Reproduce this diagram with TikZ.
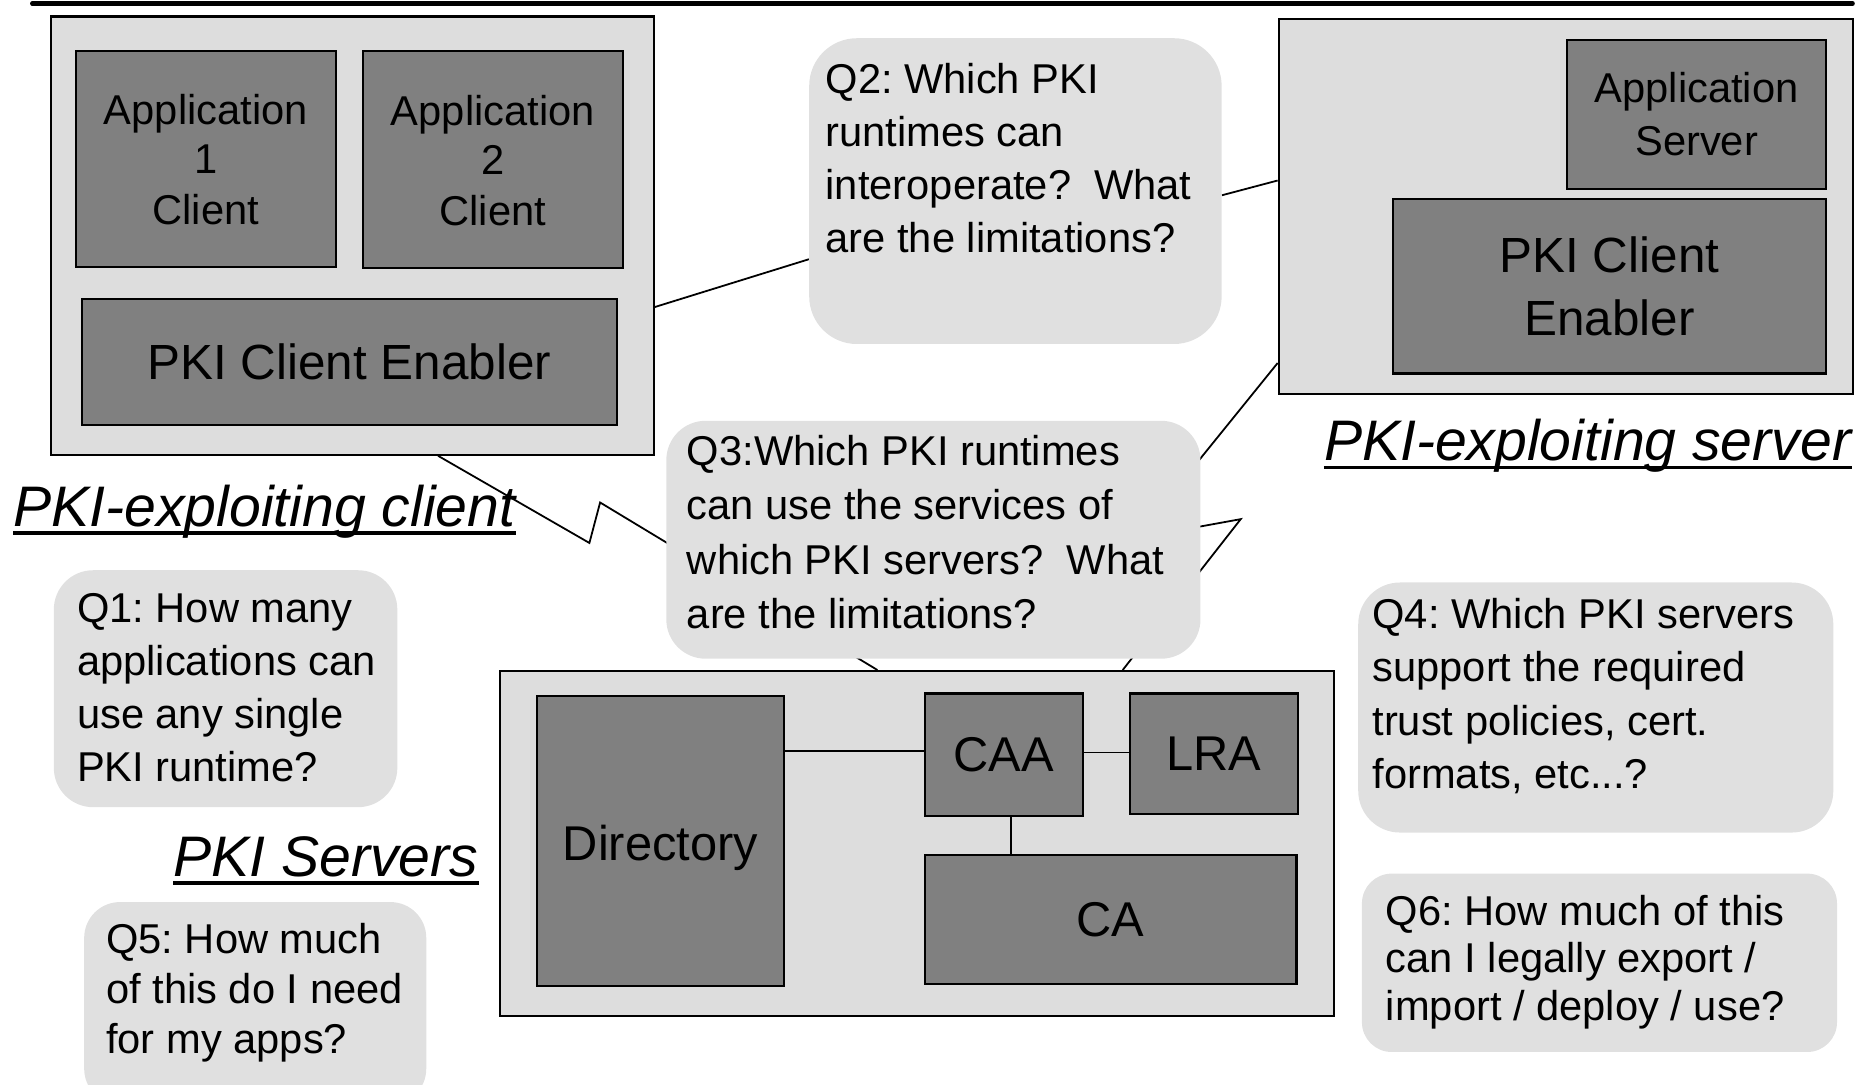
\documentclass[tikz,border=0pt]{standalone}
\usepackage{fontspec}
\setmainfont{Liberation Sans}
\frenchspacing
\pgfdeclarelayer{bg}
\pgfsetlayers{bg,main}
\definecolor{lightbox}{HTML}{DDDDDD}
\definecolor{bubblefill}{HTML}{E0E0E0}
\definecolor{darkbox}{HTML}{808080}
\newcommand{\firstline}{\rule{0pt}{30pt}}
\begin{document}
\begin{tikzpicture}[x=1pt,y=-1pt,
  outerbox/.style={draw=black, line width=1.8pt, fill=lightbox, anchor=north west, inner sep=0pt},
  innerbox/.style={draw=black, line width=1.8pt, fill=darkbox, anchor=north west, inner sep=0pt, align=center},
  bubble/.style={fill=bubblefill, anchor=north west, inner sep=0pt, rounded corners=#1},
  qtext/.style={anchor=north west, inner sep=0pt, align=left, font=\fontsize{35}{#1}\selectfont},
  conn/.style={draw=black, line width=1.5pt},
  boxfont/.style={font=\fontsize{35}{#1}\selectfont},
  bigfont/.style={font=\fontsize{41.5}{#1}\selectfont},
  srvfont/.style={font=\fontsize{41}{50}\selectfont},
  lbl/.style={inner sep=0pt, font=\fontsize{48}{56}\selectfont\itshape},
  uline/.style={draw=black, line width=3pt}
]
\useasboundingbox (0,0) rectangle (1568,911);
\clip (0,0) rectangle (1568,911);

% top rule
\draw[line width=3.5pt, line cap=round] (27,3) -- (1556,3);

% PKI-exploiting client
\node[outerbox, minimum width=506pt, minimum height=368pt] (client) at (42,13) {};
\node[innerbox, boxfont=43, minimum width=218pt, minimum height=181pt] (app1) at (63,42) {\raisebox{-2pt}[\height][\depth]{Application}\\1\\Client};
\node[innerbox, boxfont=43, minimum width=218pt, minimum height=182pt] (app2) at (304,42) {\raisebox{-2pt}[\height][\depth]{Application}\\2\\Client};
\node[innerbox, bigfont=51, minimum width=449pt, minimum height=106pt] (cenabler) at (68,250) {PKI Client Enabler};
\node[lbl, anchor=base west] (clientlbl) at (11,442) {PKI-exploiting client};
\draw[uline] ([yshift=-5.5pt]clientlbl.base west) -- ([yshift=-5.5pt]clientlbl.base east);

% PKI-exploiting server
\node[outerbox, minimum width=482pt, minimum height=315pt] (server) at (1073,15) {};
\node[innerbox, boxfont=45, minimum width=218pt, minimum height=125pt] (appserver) at (1315,32.5) {Application\\Server};
\node[innerbox, bigfont=53, minimum width=363pt, minimum height=146.5pt] (senabler) at (1169.3,166.3) {PKI Client\\Enabler};
\node[lbl, anchor=base east] (serverlbl) at (1555,387) {PKI-exploiting server};
\draw[uline] ([yshift=-5.5pt]serverlbl.base west) -- ([yshift=-5.5pt]serverlbl.base east);

% PKI Servers
\node[outerbox, minimum width=700.5pt, minimum height=290pt] (servers) at (419,562.7) {};
\node[innerbox, srvfont, minimum width=207.6pt, minimum height=243.5pt] (directory) at (450,583.7) {\raisebox{-6pt}[\height][\depth]{Directory}};
\node[innerbox, srvfont, minimum width=132.6pt, minimum height=103pt] (caa) at (775.7,581.5) {CAA};
\node[innerbox, srvfont, minimum width=141.2pt, minimum height=101pt] (lra) at (947.8,581.5) {LRA};
\node[innerbox, srvfont, minimum width=312.3pt, minimum height=108.5pt] (ca) at (775.7,717.3) {CA};
\node[lbl, anchor=base west] (serverslbl) at (145.5,736) {PKI Servers};
\draw[uline] ([yshift=-5.5pt]serverslbl.base west) -- ([yshift=-5.5pt]serverslbl.base east);

\draw[conn] ([yshift=3pt]caa.west -| directory.east) -- ([yshift=3pt]caa.west);
\draw[conn] ([yshift=2pt]caa.east) -- ([yshift=2pt]caa.east -| lra.west);
\draw[conn] ([xshift=6pt]caa.south) -- ([xshift=6pt]caa.south |- ca.north);

% Question bubbles
\node[bubble=40, minimum width=346.4pt, minimum height=256.8pt] (q2) at (679.4,31.9) {};
\node[qtext=44.6] (q2text) at (693.2,48) {\firstline Q2: Which PKI\\runtimes can\\interoperate?\ \ What\\are the limitations?};

\node[bubble=33, minimum width=448.6pt, minimum height=199.8pt] (q3) at (559.4,353.2) {};
\node[qtext=45.5] (q3text) at (576.7,361) {\firstline Q3:Which PKI runtimes\\can use the services of\\which PKI servers?\ \ What\\are the limitations?};

\node[bubble=33, minimum width=288.5pt, minimum height=199pt] (q1) at (45,478.7) {};
\node[qtext=44.5] (q1text) at (64.5,492.8) {\firstline Q1: How many\\applications can\\use any single\\PKI runtime?};

\node[bubble=30, minimum width=287.3pt, minimum height=170pt] (q5) at (70.5,757.4) {};
\node[qtext=42.2] (q5text) at (89,770.3) {\firstline Q5: How much\\of this do I need\\for my apps?};

\node[bubble=35, minimum width=399pt, minimum height=210pt] (q4) at (1140.5,489) {};
\node[qtext=44.8] (q4text) at (1152.5,497.7) {\firstline Q4: Which PKI servers\\support the required\\trust policies, cert.\\formats, etc...?};

\node[bubble=25, minimum width=399pt, minimum height=149.8pt] (q6) at (1143.6,733.5) {};
\node[qtext=40] (q6text) at (1163.8,746.9) {\firstline Q6: How much of this\\can I legally export /\\import / deploy / use?};

% connectors behind everything
\begin{pgfonlayer}{bg}
\coordinate (cspikelow) at (495,456);
\coordinate (cspikehigh) at (504,422);
\coordinate (sbend) at (954,452);
\coordinate (sspike) at (1042,436);
\draw[conn] ([yshift=-60pt]client.east) -- ([yshift=-57.2pt]q2.west);
\draw[conn] ([yshift=-3.5pt]q2.east) -- ([yshift=21.8pt]server.west);
\draw[conn] ([xshift=72pt]client.south) -- (cspikelow) -- (cspikehigh) -- ([xshift=-33.25pt]servers.north);
\draw[conn] ([yshift=-131.5pt]server.west) -- (sbend) -- (sspike) -- ([xshift=172.75pt]servers.north);
\end{pgfonlayer}
\end{tikzpicture}
\end{document}
